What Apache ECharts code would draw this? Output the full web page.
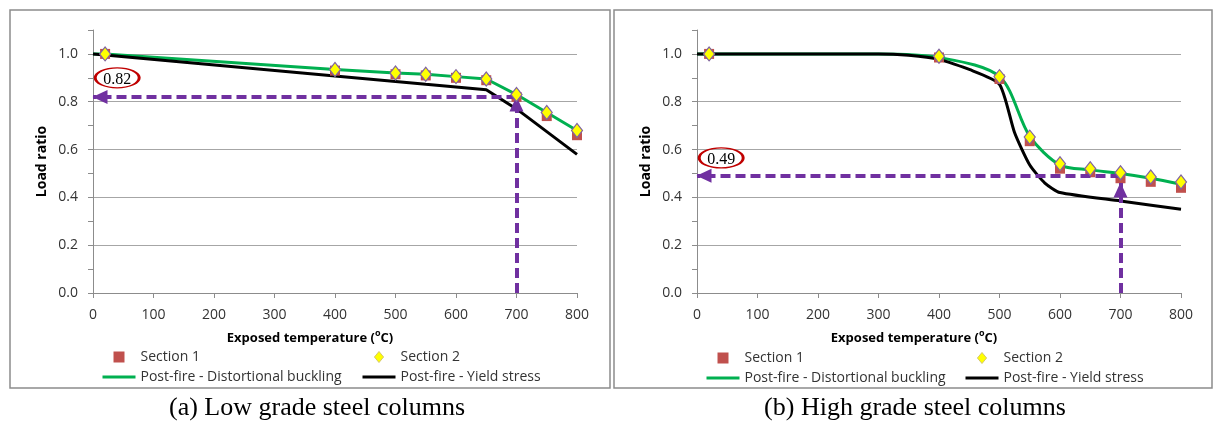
<!DOCTYPE html>
<html>
<head>
<meta charset="utf-8">
<script src="https://cdn.jsdelivr.net/npm/echarts@6/dist/echarts.min.js"></script>
<style>
html,body{margin:0;padding:0;background:#fff;}
#chart{width:1214px;height:421px;}
</style>
</head>
<body>
<div id="chart"></div>
<script>
// ---------- data ----------
const sectionTemps = [20, 400, 500, 550, 600, 650, 700, 750, 800];
const curveTemps = [0, 20, 400, 500, 550, 600, 650, 700, 750, 800];

// (a) low grade
const lowSection1 = [1.0, 0.93, 0.915, 0.91, 0.90, 0.89, 0.82, 0.74, 0.66];
const lowSection2 = [1.0, 0.935, 0.92, 0.915, 0.905, 0.895, 0.83, 0.755, 0.68];
const lowDistortional = [1.0, 1.0, 0.935, 0.92, 0.915, 0.905, 0.895, 0.83, 0.755, 0.68];
const lowYield = [1.0, 0.995, 0.908, 0.885, 0.873, 0.862, 0.85, 0.77, 0.675, 0.58];

// (b) high grade
const highSection1 = [1.0, 0.985, 0.895, 0.635, 0.52, 0.505, 0.48, 0.465, 0.44];
const highSection2 = [1.0, 0.99, 0.905, 0.652, 0.541, 0.52, 0.503, 0.485, 0.464];
const highDistTemps = [0, 20, 300, 400, 500, 550, 600, 650, 700, 750, 800];
const highDistortional = [1.0, 1.0, 1.0, 0.985, 0.905, 0.655, 0.535, 0.515, 0.5, 0.48, 0.455];
const highYieldTemps = [0, 20, 300, 350, 400, 450, 500, 525, 550, 575, 600, 700, 800];
const highYield = [1.0, 1.0, 1.0, 0.994, 0.977, 0.935, 0.873, 0.67, 0.535, 0.46, 0.42, 0.385, 0.35];

// read-out arrows: [temperature, load ratio at arrow level, vertical arrow tip]
const lowReadout = [700, 0.82, 0.82];
const highReadout = [700, 0.49, 0.46];
// read-out label bubbles: [temperature, load ratio, text]
const lowBubble = [40, 0.9, '0.82'];
const highBubble = [40, 0.565, '0.49'];

const xTicks = [0, 800, 100];      // min, max, interval
const yTicks = [0, 1.1, 0.1];      // min, max, interval (labels every 0.2)

const names = {
  s1: 'Section 1',
  s2: 'Section 2',
  dist: 'Post-fire - Distortional buckling',
  yield: 'Post-fire - Yield stress'
};
const captions = ['(a) Low grade steel columns', '(b) High grade steel columns'];

// ---------- styles ----------
const FONT = 'Open Sans';
const TXT = '#333';
const AX = '#8c8c8c';
const GRID = '#a6a6a6';
const GREEN = '#00B050';
const PURPLE = '#7030A0';
const SQUARE_PATH = 'path://M0,0 H10 V10 H0 Z';
const DIAMOND_PATH = 'path://M5,0 L10,6 L5,12 L0,6 Z';

const zip = (xs, ys) => xs.map((x, i) => [x, ys[i]]);

function xAxisCfg(gi) {
  return {
    type: 'value', gridIndex: gi,
    min: xTicks[0], max: xTicks[1], interval: xTicks[2],
    name: 'Exposed temperature ({sup|o}C)',
    nameLocation: 'middle', nameGap: 36,
    nameTextStyle: {
      fontFamily: FONT, fontSize: 13, fontWeight: 'bold', color: '#000',
      padding: [0, 50, 0, 0], lineHeight: 18,
      rich: { sup: { fontFamily: FONT, fontSize: 9, fontWeight: 'bold', color: '#000', verticalAlign: 'top', lineHeight: 18 } }
    },
    axisLine: { show: true, lineStyle: { color: AX, width: 1 } },
    axisTick: { show: true, length: 5, lineStyle: { color: AX } },
    axisLabel: { fontFamily: FONT, fontSize: 14, color: TXT, margin: 15 },
    splitLine: { show: false }
  };
}
function yAxisCfg(gi) {
  return {
    type: 'value', gridIndex: gi,
    min: yTicks[0], max: yTicks[1], interval: yTicks[2],
    name: 'Load ratio', nameLocation: 'middle', nameGap: 44,
    nameTextStyle: { fontFamily: FONT, fontSize: 14, fontWeight: 'bold', color: '#000' },
    axisLine: { show: true, lineStyle: { color: AX, width: 1 } },
    axisTick: { show: true, length: 5, lineStyle: { color: AX } },
    axisLabel: {
      fontFamily: FONT, fontSize: 14, color: TXT, margin: 15,
      formatter: v => (Math.round(v * 10) % 2 === 0 ? v.toFixed(1) : '')
    },
    splitLine: { show: true, lineStyle: { color: [GRID, 'transparent'], width: 1 } }
  };
}

function panelSeries(gi, s1, s2, distX, dist, yieldX, yld, readout, bubble) {
  return [
    {
      name: names.dist, type: 'line', xAxisIndex: gi, yAxisIndex: gi,
      data: zip(distX, dist), symbol: 'none', showSymbol: false, smooth: gi === 1 ? 0.3 : false,
      lineStyle: { color: GREEN, width: 3 }, itemStyle: { color: GREEN }, z: 2
    },
    {
      name: names.yield, type: 'line', xAxisIndex: gi, yAxisIndex: gi,
      data: zip(yieldX, yld), symbol: 'none', showSymbol: false, smooth: gi === 1 ? 0.2 : false,
      lineStyle: { color: '#000', width: 3 }, itemStyle: { color: '#000' }, z: 2
    },
    {
      name: 'readout', type: 'line', xAxisIndex: gi, yAxisIndex: gi, data: [], z: 3,
      markLine: {
        silent: true, animation: false,
        symbol: ['none', 'triangle'], symbolSize: [14, 15], symbolOffset: [0, [0, 7]],
        label: { show: false },
        lineStyle: { color: PURPLE, width: 4, type: [10, 5] },
        emphasis: { disabled: true },
        data: [
          [{ coord: [readout[0], readout[1]] }, { coord: [xTicks[0], readout[1]] }],
          [{ coord: [readout[0], yTicks[0]] }, { coord: [readout[0], readout[2]] }]
        ]
      }
    },
    {
      name: names.s1, type: 'scatter', xAxisIndex: gi, yAxisIndex: gi,
      data: zip(sectionTemps, s1), symbol: 'rect', symbolSize: 10,
      itemStyle: { color: '#C0504D', opacity: 1 }, z: 4
    },
    {
      name: names.s2, type: 'scatter', xAxisIndex: gi, yAxisIndex: gi,
      data: zip(sectionTemps, s2), symbol: 'diamond', symbolSize: [11, 14],
      itemStyle: { color: '#FFFF00', borderColor: '#8064A2', borderWidth: 1.2, opacity: 1 }, z: 5
    },
    {
      name: 'bubble', type: 'scatter', xAxisIndex: gi, yAxisIndex: gi, z: 6,
      silent: true,
      data: [[bubble[0], bubble[1]]],
      symbol: 'path://M0,10 A10,10 0 1,1 20,10 A10,10 0 1,1 0,10 Z',
      symbolSize: [44, 20],
      itemStyle: { color: 'rgba(255,255,255,0)', borderColor: '#C00000', borderWidth: 2, opacity: 1 },
      label: {
        show: true, position: 'inside', formatter: bubble[2],
        fontFamily: 'Liberation Serif', fontSize: 16, color: '#000', offset: [0, 2]
      }
    }
  ];
}

function legends(leftA, leftB, top) {
  const base = {
    orient: 'vertical', top: top, padding: 0,
    itemWidth: 33, itemHeight: 11, itemGap: 6,
    symbolKeepAspect: true,
    textStyle: { fontFamily: FONT, fontSize: 14, color: TXT },
    selectedMode: false
  };
  return [
    Object.assign({}, base, { left: leftA, data: [
      { name: names.s1, icon: SQUARE_PATH },
      { name: names.dist, itemStyle: { opacity: 0 }, lineStyle: { width: 3 } }
    ] }),
    Object.assign({}, base, { left: leftB, data: [
      { name: names.s2, icon: DIAMOND_PATH, itemStyle: { borderColor: '#d6c86a', borderWidth: 1 } },
      { name: names.yield, itemStyle: { opacity: 0 }, lineStyle: { width: 3 } }
    ] })
  ];
}

const chart = echarts.init(document.getElementById('chart'), null, { renderer: 'canvas' });
chart.setOption({
  animation: false,
  backgroundColor: '#fff',
  title: [
    { text: captions[0], left: 312, top: 390, textAlign: 'center',
      textStyle: { fontFamily: 'Liberation Serif', fontSize: 26, fontWeight: 'normal', color: '#000' } },
    { text: captions[1], left: 910, top: 390, textAlign: 'center',
      textStyle: { fontFamily: 'Liberation Serif', fontSize: 26, fontWeight: 'normal', color: '#000' } }
  ],
  graphic: [
    { type: 'rect', silent: true, shape: { x: 10, y: 10, width: 600, height: 378 },
      style: { fill: 'none', stroke: '#8c8c8c', lineWidth: 1.5 } },
    { type: 'rect', silent: true, shape: { x: 614, y: 10, width: 598, height: 378 },
      style: { fill: 'none', stroke: '#8c8c8c', lineWidth: 1.5 } }
  ],
  grid: [
    { left: 93, right: 637, top: 30, bottom: 128 },
    { left: 697, right: 33, top: 30, bottom: 128 }
  ],
  xAxis: [xAxisCfg(0), xAxisCfg(1)],
  yAxis: [yAxisCfg(0), yAxisCfg(1)],
  legend: legends(101, 361, 350).concat(legends(705, 964, 351)),
  series: [].concat(
    panelSeries(0, lowSection1, lowSection2, curveTemps, lowDistortional, curveTemps, lowYield, lowReadout, lowBubble),
    panelSeries(1, highSection1, highSection2, highDistTemps, highDistortional, highYieldTemps, highYield, highReadout, highBubble)
  )
});
</script>
</body>
</html>
